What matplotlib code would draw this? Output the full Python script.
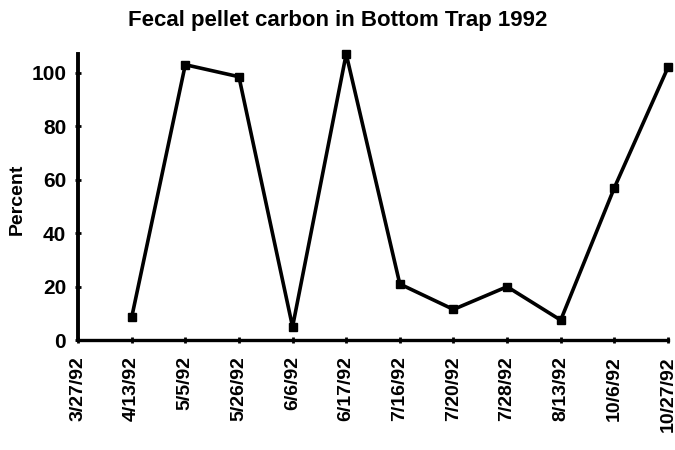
import matplotlib
matplotlib.use("Agg")
import matplotlib.pyplot as plt

dates = ["3/27/92", "4/13/92", "5/5/92", "5/26/92", "6/6/92", "6/17/92",
         "7/16/92", "7/20/92", "7/28/92", "8/13/92", "10/6/92", "10/27/92"]
percent = [None, 8.5, 103, 98.5, 5, 107, 21, 11.5, 20, 7.5, 57, 102]
yticks = [0, 20, 40, 60, 80, 100]

plt.rcParams['font.family'] = ['Liberation Sans', 'DejaVu Sans']
fig = plt.figure(figsize=(6.75, 4.5), dpi=100)
ax = fig.add_axes([0.1156, 0.244, 0.874, 0.636])

xs = [i for i, v in enumerate(percent) if v is not None]
ys = [v for v in percent if v is not None]
ax.plot(xs, ys, color='black', lw=2.6, marker='s', ms=5.5, clip_on=False, zorder=3)

ax.set_xlim(0, 11)
ax.set_ylim(0, 107)
ax.set_xticks(range(len(dates)))
ax.set_xticklabels(dates, rotation=90, fontsize=14, fontweight='bold')
ax.set_yticks(yticks)
ax.set_yticklabels([str(t) for t in yticks], fontsize=15, fontweight='bold')
for s in ['top', 'right']:
    ax.spines[s].set_visible(False)
ax.spines['left'].set_linewidth(2.8)
ax.spines['bottom'].set_linewidth(2.4)
ax.tick_params(axis='both', direction='inout', length=5, width=2)
ax.tick_params(axis='x', pad=9)
ax.tick_params(axis='y', pad=6)
fig.text(0.025, 0.556, "Percent", rotation=90, ha='center', va='center',
         fontsize=14, fontweight='bold')
fig.text(0.5, 0.955, "Fecal pellet carbon in Bottom Trap 1992", ha='center', va='center',
         fontsize=16, fontweight='bold')
fig.savefig("out.png", dpi=100)
